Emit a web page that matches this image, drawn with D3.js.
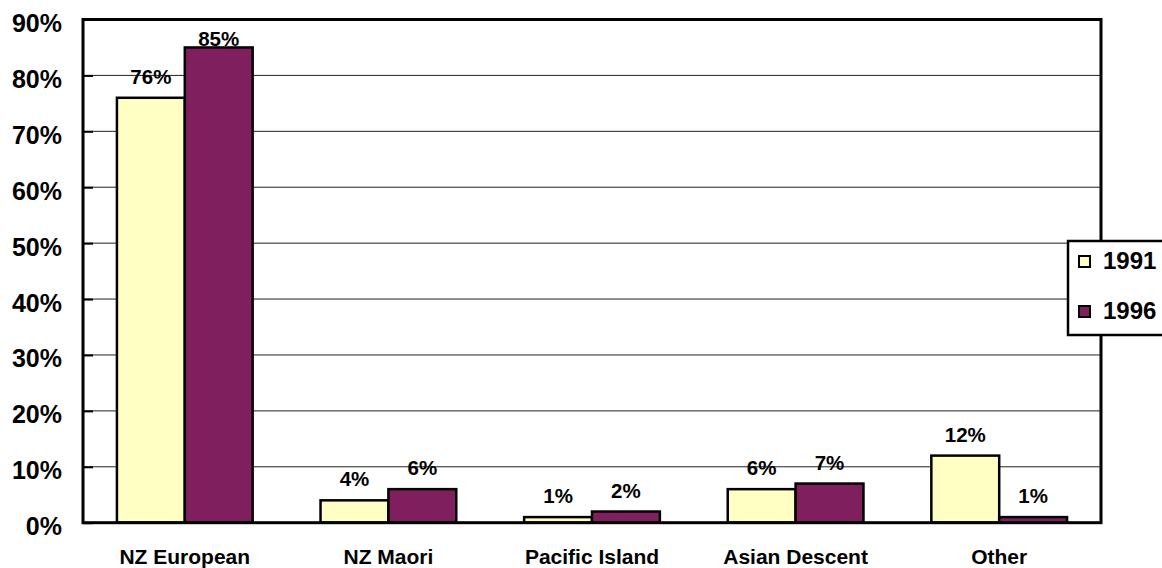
<!DOCTYPE html>
<html>
<head>
<meta charset="utf-8">
<script src="https://cdn.jsdelivr.net/npm/d3@7"></script>
<style>
  html, body { margin: 0; padding: 0; background: #fff; }
  svg { display: block; font-family: "Liberation Sans", Arial, sans-serif; font-weight: bold; }
</style>
</head>
<body>
<svg id="chart" width="1162" height="568"></svg>
<script>
// Ethnic composition, 1991 vs 1996 (percent)
const categories = ["NZ European", "NZ Maori", "Pacific Island", "Asian Descent", "Other"];
const seriesNames = ["1991", "1996"];
const values1991 = [76, 4, 1, 6, 12];
const values1996 = [85, 6, 2, 7, 1];
const tickValues = [0, 10, 20, 30, 40, 50, 60, 70, 80, 90];
const colors = ["#ffffc4", "#801f5e"];

const seriesValues = [values1991, values1996];
const rows = categories.map((c, i) => ({
  category: c,
  values: seriesNames.map((s, j) => ({ series: s, value: seriesValues[j][i] }))
}));

const svg = d3.select("#chart");
const plot = { left: 83, right: 1101, top: 19.5, bottom: 522.7 };

const y = d3.scaleLinear().domain([0, 90]).range([plot.bottom, plot.top]);
const x0 = d3.scaleBand().domain(categories).range([plot.left, plot.right]).padding(0);
const x1 = d3.scaleBand().domain(seriesNames).range([0, x0.bandwidth()])
  .paddingInner(0).paddingOuter(0.5);
const color = d3.scaleOrdinal().domain(seriesNames).range(colors);

// Horizontal gridlines
svg.append("g")
  .selectAll("line")
  .data(tickValues.filter(t => t > 0 && t < 90))
  .join("line")
  .attr("x1", plot.left).attr("x2", plot.right)
  .attr("y1", d => y(d)).attr("y2", d => y(d))
  .attr("stroke", "#222").attr("stroke-width", 1);

// Y axis: labels on the left, short ticks pointing into the plot
const yAxis = svg.append("g")
  .attr("transform", `translate(${plot.left},0)`)
  .call(d3.axisRight(y).tickValues(tickValues).tickSize(10).tickFormat(""));
yAxis.select(".domain").remove();
yAxis.selectAll(".tick line").attr("stroke", "#000").attr("stroke-width", 2);

svg.append("g")
  .selectAll("text")
  .data(tickValues)
  .join("text")
  .attr("x", 62)
  .attr("y", d => y(d) + 12.5)
  .attr("text-anchor", "end")
  .attr("font-size", 25)
  .attr("fill", "#000")
  .text(d => d + "%");

// Bars
const groups = svg.append("g")
  .selectAll("g")
  .data(rows)
  .join("g")
  .attr("transform", d => `translate(${x0(d.category)},0)`);

groups.selectAll("rect")
  .data(d => d.values)
  .join("rect")
  .attr("x", d => x1(d.series))
  .attr("y", d => y(d.value))
  .attr("width", x1.bandwidth())
  .attr("height", d => y(0) - y(d.value))
  .attr("fill", d => color(d.series))
  .attr("stroke", "#000")
  .attr("stroke-width", 2.5);

// Value labels above bars
groups.selectAll("text")
  .data(d => d.values)
  .join("text")
  .attr("x", d => x1(d.series) + x1.bandwidth() / 2)
  .attr("y", d => Math.max(y(d.value) - 14, plot.top + 26))
  .attr("text-anchor", "middle")
  .attr("font-size", 20.5)
  .attr("fill", "#000")
  .text(d => d.value + "%");

// Plot frame
svg.append("rect")
  .attr("x", plot.left).attr("y", plot.top)
  .attr("width", plot.right - plot.left).attr("height", plot.bottom - plot.top)
  .attr("fill", "none").attr("stroke", "#000").attr("stroke-width", 3);

// Category labels
svg.append("g")
  .selectAll("text")
  .data(categories)
  .join("text")
  .attr("x", d => x0(d) + x0.bandwidth() / 2)
  .attr("y", 564)
  .attr("text-anchor", "middle")
  .attr("font-size", 21)
  .attr("fill", "#000")
  .text(d => d);

// Legend
const legend = svg.append("g").attr("transform", "translate(1068,241)");
legend.append("rect")
  .attr("x", 0).attr("y", 0).attr("width", 100).attr("height", 94)
  .attr("fill", "#fff").attr("stroke", "#000").attr("stroke-width", 2.5);
const items = legend.selectAll("g.item")
  .data(seriesNames)
  .join("g")
  .attr("class", "item")
  .attr("transform", (d, i) => `translate(0,${i * 50})`);
items.append("rect")
  .attr("x", 11).attr("y", 15).attr("width", 11).attr("height", 11)
  .attr("fill", d => color(d)).attr("stroke", "#000").attr("stroke-width", 2);
items.append("text")
  .attr("x", 35).attr("y", 27.5)
  .attr("font-size", 24)
  .attr("fill", "#000")
  .text(d => d);
</script>
</body>
</html>
